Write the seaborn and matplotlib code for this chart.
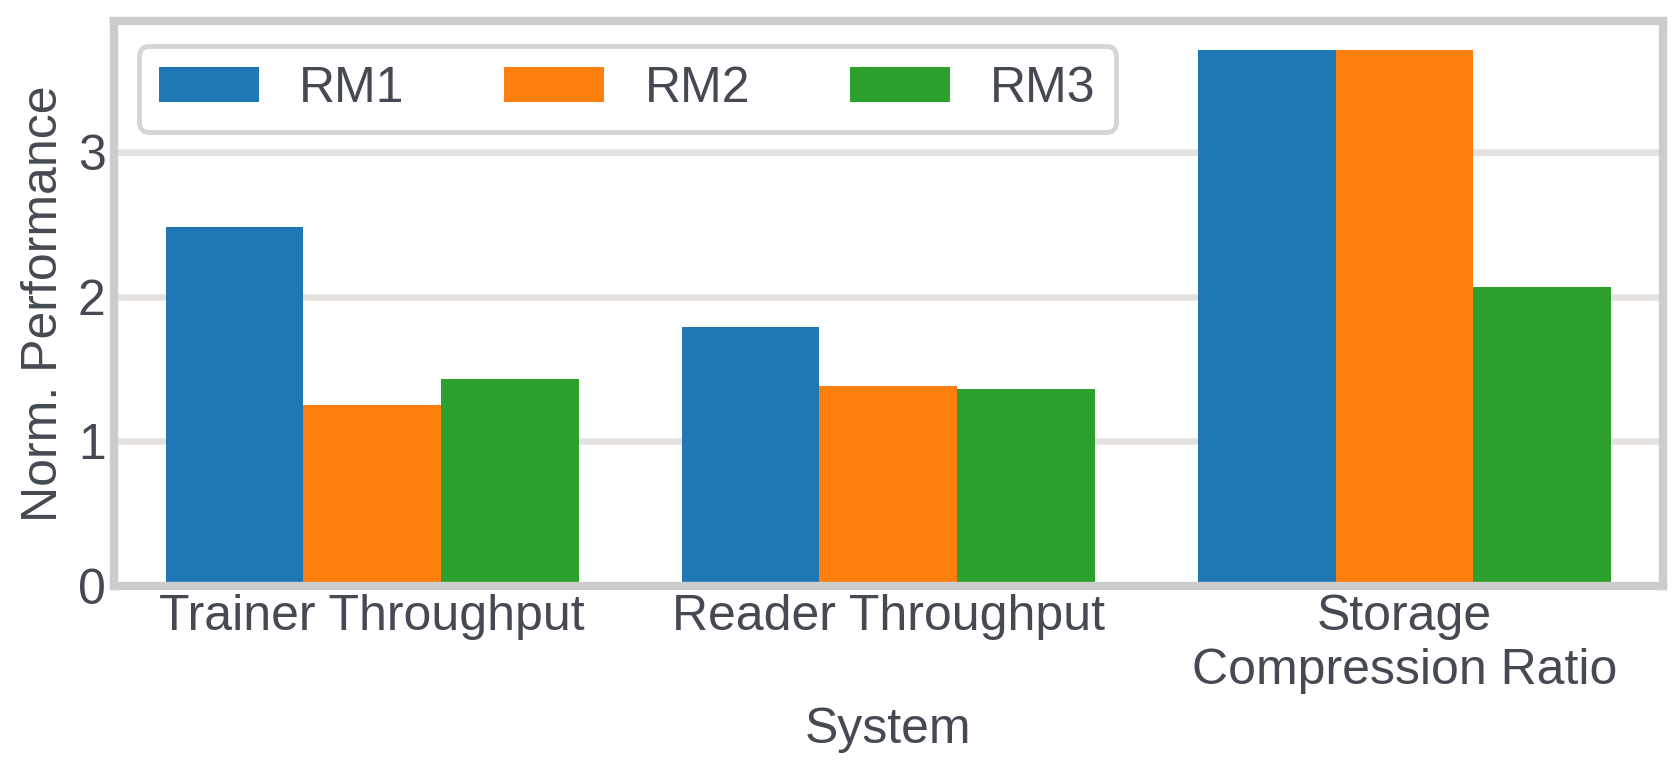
import matplotlib
matplotlib.use("Agg")
import matplotlib.pyplot as plt
import seaborn as sns
import pandas as pd

categories = ["Trainer Throughput", "Reader Throughput", "Storage\nCompression Ratio"]
models = ["RM1", "RM2", "RM3"]
rm1 = [2.48, 1.79, 3.71]
rm2 = [1.25, 1.38, 3.71]
rm3 = [1.43, 1.36, 2.07]
colors = ["#1f77b4", "#ff7f0e", "#2ca02c"]
yticks = [0, 1, 2, 3]

rows = []
for m, vals in zip(models, [rm1, rm2, rm3]):
    for c, v in zip(categories, vals):
        rows.append({"System": c, "Model": m, "Value": v})
df = pd.DataFrame(rows)

sns.set_theme(style="whitegrid")
text_color = "#454a52"
plt.rcParams["font.family"] = ["Liberation Sans", "DejaVu Sans"]
plt.rcParams["text.color"] = text_color
plt.rcParams["axes.labelcolor"] = text_color
plt.rcParams["xtick.color"] = text_color
plt.rcParams["ytick.color"] = text_color

fig = plt.figure(figsize=(16.76, 7.67), dpi=100)
ax = fig.add_axes([0.068, 0.236, 0.924, 0.737])

sns.barplot(data=df, x="System", y="Value", hue="Model", hue_order=models,
            order=categories, palette=colors, saturation=1, width=0.8,
            linewidth=0, ax=ax)

ax.set_ylim(0, 3.91)
ax.set_xlim(-0.5, 2.5)
ax.set_yticks(yticks)
ax.set_yticklabels([str(t) for t in yticks])
ax.grid(axis="y", color="#e5e1de", linewidth=4.8)
ax.grid(axis="x", visible=False)
ax.set_axisbelow(True)
for s in ax.spines.values():
    s.set_color("#cccccc")
    s.set_linewidth(6)
ax.tick_params(axis="both", labelsize=36, length=0, pad=6)
ax.set_xlabel("System", fontsize=36, labelpad=10)
ax.set_ylabel("Norm. Performance", fontsize=36, labelpad=8)

leg = ax.legend(loc="upper left", ncol=3, fontsize=36, frameon=True,
                handlelength=2.0, handleheight=0.7, handletextpad=0.8,
                columnspacing=2.0, borderaxespad=0.5, fancybox=True,
                title=None)
leg.get_frame().set_edgecolor("#d5d5d5")
leg.get_frame().set_linewidth(3.5)
leg.get_frame().set_facecolor("white")
leg.get_frame().set_alpha(1)

fig.savefig("out.png", dpi=100)
